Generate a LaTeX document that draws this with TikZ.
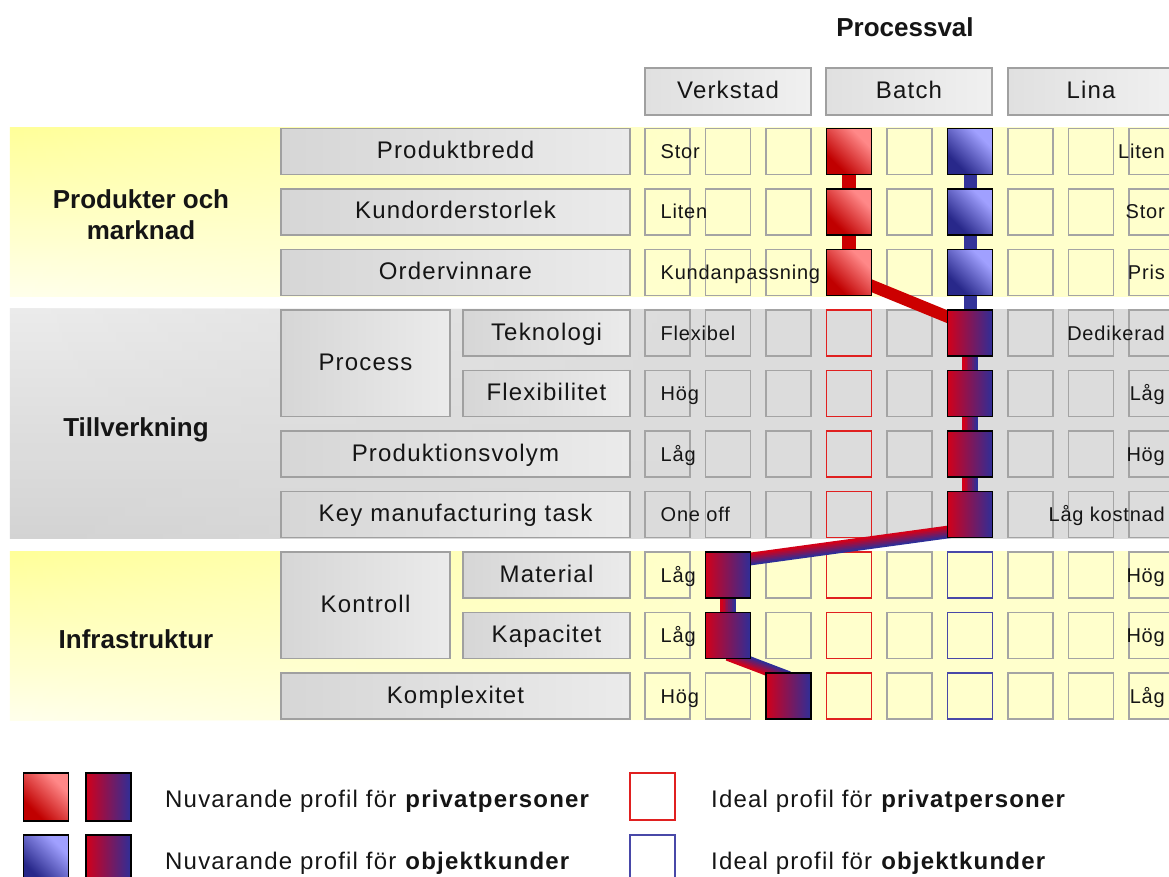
\documentclass[tikz,border=0pt]{standalone}
\usepackage{fontspec}
\setmainfont{Liberation Sans}
\newfontfamily\spaced[LetterSpace=5]{Liberation Sans}
\newfontfamily\cellfont[LetterSpace=4]{Liberation Sans}
\usetikzlibrary{calc,fadings}

\definecolor{cellgrey}{HTML}{A4A4A4}
\definecolor{boxline}{HTML}{A0A0A0}
\definecolor{boxleft}{HTML}{D6D6D6}
\definecolor{boxright}{HTML}{EBEBEB}
\definecolor{hdrleft}{HTML}{E0E0E0}
\definecolor{hdrright}{HTML}{F0F0F0}
\definecolor{ybase}{HTML}{FFFFCC}
\definecolor{ytop}{HTML}{FFFF99}
\definecolor{ybot}{HTML}{FFFFEC}
\definecolor{gbase}{HTML}{DCDCDC}
\definecolor{gtop}{HTML}{ECECEC}
\definecolor{gbot}{HTML}{D3D3D3}
\definecolor{pred}{HTML}{CC0000}
\definecolor{pblue}{HTML}{333399}
\definecolor{mixred}{HTML}{D2001A}
\definecolor{mixblue}{HTML}{2E2E98}
\definecolor{idred}{HTML}{E02020}
\definecolor{idblue}{HTML}{4848A8}
\definecolor{ink}{HTML}{151515}
\definecolor{reddark}{HTML}{C00000}
\definecolor{redlight}{HTML}{FF8888}
\definecolor{bluedark}{HTML}{28288A}
\definecolor{bluelight}{HTML}{A0A0FF}

% diagonal fills of the current-profile squares: dark lower left, light upper right
\pgfdeclarehorizontalshading{redsquare}{100bp}{color(0bp)=(reddark); color(30bp)=(reddark); color(70bp)=(redlight); color(100bp)=(redlight)}
\pgfdeclarehorizontalshading{bluesquare}{100bp}{color(0bp)=(bluedark); color(30bp)=(bluedark); color(70bp)=(bluelight); color(100bp)=(bluelight)}

% connector whose colour runs from red (right-hand side) to blue (left-hand side)
\newcommand\mixlink[3]{%
  \foreach \k in {0,...,7}{%
    \pgfmathsetmacro\off{(\k-3.5)*#3/8}%
    \pgfmathsetmacro\shareR{100*\k/7}%
    \pgfmathsetmacro\lw{#3/8+0.7}%
    \draw[line width=\lw pt, draw=mixred!\shareR!mixblue]
      ($(#1)!\off pt!-90:(#2)$) -- ($(#2)!\off pt!90:(#1)$);
  }}

\begin{document}
\begin{tikzpicture}[x=1pt, y=-1pt,
  cell/.style={draw=cellgrey, line width=1.4, minimum width=45, minimum height=46, inner sep=0},
  idealred/.style={cell, draw=idred},
  idealblue/.style={cell, draw=idblue},
  profbase/.style={draw=black, line width=1.8, minimum width=45, minimum height=46, inner sep=0},
  profred/.style={profbase, shade, shading=redsquare, shading angle=45},
  profblue/.style={profbase, shade, shading=bluesquare, shading angle=45},
  profmix/.style={profbase, left color=mixred, right color=mixblue},
  lbox/.style={draw=boxline, line width=1.2, left color=boxleft, right color=boxright,
    minimum height=46, inner sep=0, text=ink, font=\spaced\fontsize{24}{28}\selectfont,
    text height=17.5, text depth=3.5},
  hbox/.style={lbox, left color=hdrleft, right color=hdrright, minimum width=166, minimum height=47},
  sect/.style={text=ink, font=\fontsize{26}{31}\selectfont\bfseries, align=center, inner sep=0},
  celltext/.style={text=ink, font=\cellfont\fontsize{20}{24}\selectfont, inner sep=0},
  legtxt/.style={text=ink, font=\spaced\fontsize{24}{28}\selectfont, inner sep=0, anchor=base west},
  redlink/.style={draw=pred, line width=14},
  bluelink/.style={draw=pblue, line width=13}]

\useasboundingbox (0,0) rectangle (1169,877);
\fill[white] (0,0) rectangle (1169,877);

% background bands
\fill[ybase] (10,127.5) rectangle (1169,296.5);
\shade[top color=ytop, bottom color=ybot, path fading=east] (10,127.5) rectangle (700,296.5);
\fill[gbase] (10,309) rectangle (1169,538.5);
\shade[top color=gtop, bottom color=gbot, path fading=east] (10,309) rectangle (700,538.5);
\fill[ybase] (10,551) rectangle (1169,720);
\shade[top color=ytop, bottom color=ybot, path fading=east] (10,551) rectangle (700,720);

% title and column headers
\node[sect, anchor=base] (title) at (905,37) {Processval};
\node[hbox] (hVerkstad) at (728,91.5) {Verkstad};
\node[hbox] (hBatch) at (909,91.5) {Batch};
\node[hbox] (hLina) at (1091,91.5) {Lina};

% section labels
\node[sect] (sProd) at (141,215) {Produkter och\\marknad};
\node[sect, anchor=base] (sTill) at (136,436.3) {Tillverkning};
\node[sect, anchor=base] (sInfra) at (136,648.3) {Infrastruktur};

% row labels
\node[lbox, minimum width=349] (lProduktbredd) at (455.5,151.5) {Produktbredd};
\node[lbox, minimum width=349] (lKundorder) at (455.5,212) {Kundorderstorlek};
\node[lbox, minimum width=349] (lOrdervinnare) at (455.5,272.5) {Ordervinnare};
\node[lbox, minimum width=169, minimum height=106.5] (lProcess) at (365.5,363.25) {Process};
\node[lbox, minimum width=167] (lTeknologi) at (546.5,333) {Teknologi};
\node[lbox, minimum width=167] (lFlex) at (546.5,393.5) {Flexibilitet};
\node[lbox, minimum width=349] (lVolym) at (455.5,454) {Produktionsvolym};
\node[lbox, minimum width=349] (lKey) at (455.5,514.5) {Key manufacturing task};
\node[lbox, minimum width=169, minimum height=106.5] (lKontroll) at (365.5,605.25) {Kontroll};
\node[lbox, minimum width=167] (lMaterial) at (546.5,575) {Material};
\node[lbox, minimum width=167] (lKapacitet) at (546.5,635.5) {Kapacitet};
\node[lbox, minimum width=349] (lKomplex) at (455.5,696) {Komplexitet};

% grid of cells
\foreach \r in {1,...,10}{
  \foreach \c in {1,...,9}{
    \pgfmathsetmacro\xx{667.5+60.5*(\c-1)}
    \pgfmathsetmacro\yy{151.5+60.5*(\r-1)}
    \node[cell] (c\r-\c) at (\xx,\yy) {};
  }
}

% ideal profiles
\foreach \r in {4,...,10}{\node[idealred] (ir\r) at (c\r-4) {};}
\foreach \r in {8,9,10}{\node[idealblue] (ib\r) at (c\r-6) {};}

% connector end points
\coordinate (d1a) at ($(c3-4)+(0,4)$);
\coordinate (d1b) at ($(c4-6)+(0,-7)$);
\coordinate (d2a) at ($(c7-6)+(0,14.5)$);
\coordinate (d2b) at ($(c8-2)+(0.5,-13)$);
\coordinate (d3a) at ($(c9-2)+(0,19)$);
\coordinate (d3b) at ($(c10-3)+(0,-18.5)$);

% connectors
\draw[redlink] (c1-4) -- (c2-4) -- (c3-4);
\draw[redlink, line width=12] (d1a) -- (d1b);
\draw[bluelink] (c1-6) -- (c2-6) -- (c3-6) -- (c4-6);
\mixlink{c4-6}{c5-6}{15}
\mixlink{c5-6}{c6-6}{15}
\mixlink{c6-6}{c7-6}{15}
\mixlink{d2a}{d2b}{12}
\mixlink{c8-2}{c9-2}{15}
\mixlink{d3a}{d3b}{12}

% current profiles
\foreach \r in {1,2,3}{\node[profred] (pr\r) at (c\r-4) {};}
\foreach \r in {1,2,3}{\node[profblue] (pb\r) at (c\r-6) {};}
\foreach \r in {4,...,7}{\node[profmix] (pm\r) at (c\r-6) {};}
\node[profmix] (pm8) at (c8-2) {};
\node[profmix] (pm9) at (c9-2) {};
\node[profmix] (pm10) at (c10-3) {};

% scale end texts
\foreach \r/\t in {1/Stor, 2/Liten, 3/Kundanpassning, 4/Flexibel, 5/Hög, 6/Låg,
                   7/One off, 8/Låg, 9/Låg, 10/Hög}{
  \node[celltext, anchor=base west] (lt\r) at ($(c\r-1)+(-7,7)$) {\t};
}
\foreach \r/\t in {1/Liten, 2/Stor, 3/Pris, 4/Dedikerad, 5/Låg, 6/Hög,
                   7/Låg kostnad, 8/Hög, 9/Hög, 10/Låg}{
  \node[celltext, anchor=base east] (rt\r) at ($(c\r-9)+(13.5,7)$) {\t};
}

% legend
\node[profred, minimum height=48] (lg1) at (46,797) {};
\node[profmix, minimum height=48] (lg2) at (108.5,797) {};
\node[profblue, minimum height=48] (lg3) at (46,859) {};
\node[profmix, minimum height=48] (lg4) at (108.5,859) {};
\node[legtxt] (lgt1) at (165,807.5) {Nuvarande profil för \textbf{privatpersoner}};
\node[legtxt] (lgt2) at (165,869.5) {Nuvarande profil för \textbf{objektkunder}};
\node[idealred, minimum height=47] (lg5) at (652.5,796.5) {};
\node[idealblue, minimum height=47] (lg6) at (652.5,858.5) {};
\node[legtxt] (lgt3) at (711,807.5) {Ideal profil för \textbf{privatpersoner}};
\node[legtxt] (lgt4) at (711,869.5) {Ideal profil för \textbf{objektkunder}};

\end{tikzpicture}
\end{document}
